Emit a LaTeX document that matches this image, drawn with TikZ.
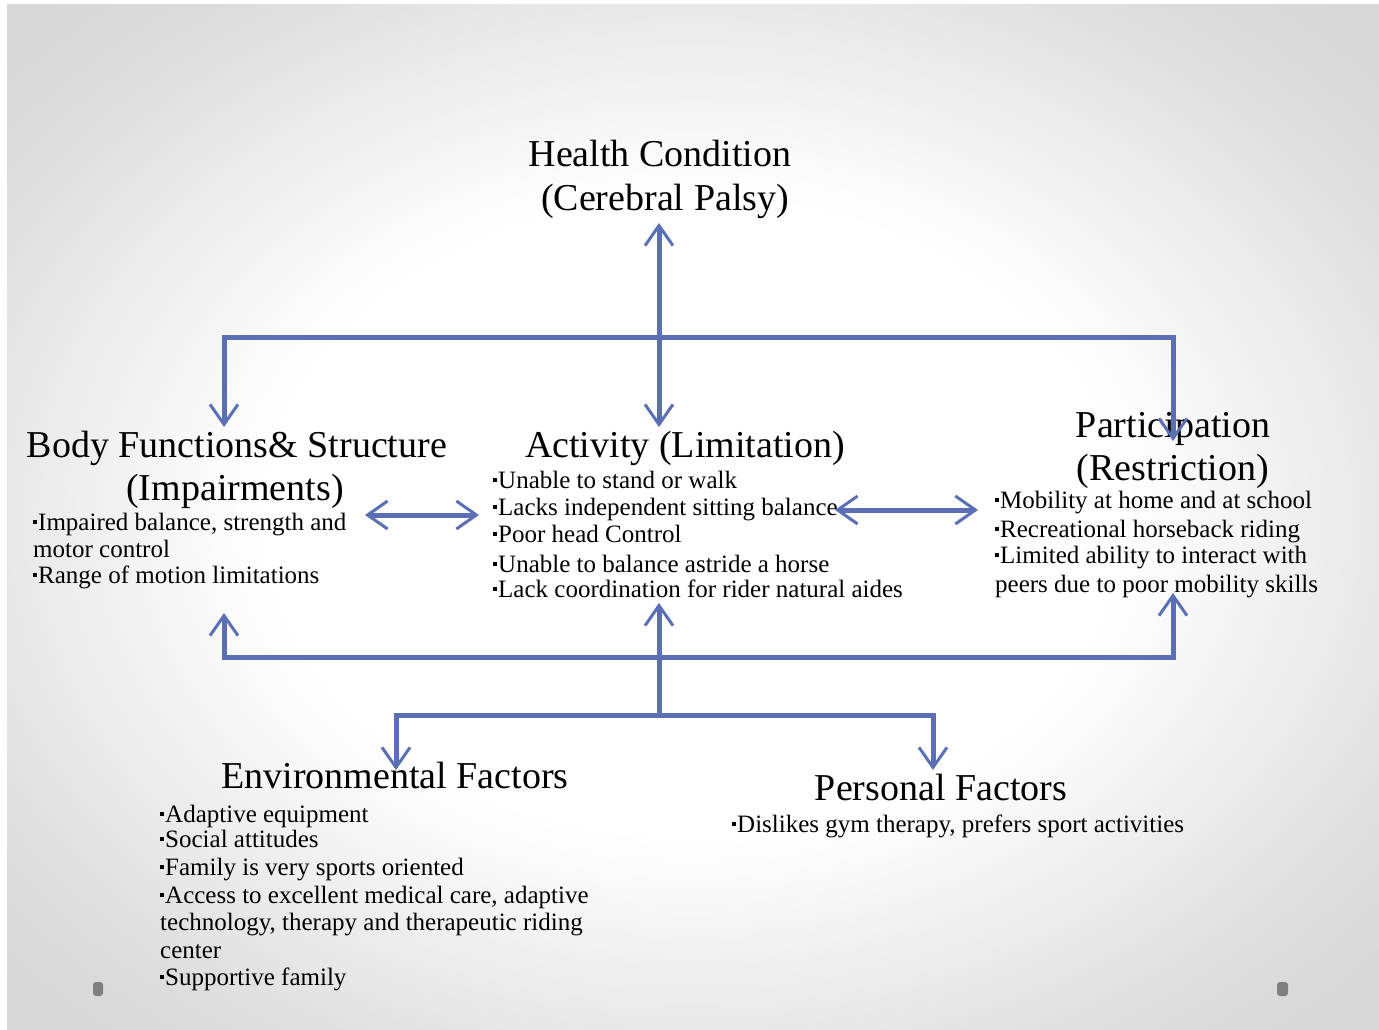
\documentclass[tikz,border=0pt]{standalone}
\usepackage{fontspec}
\setmainfont{Liberation Serif}
\usetikzlibrary{arrows.meta}
\definecolor{conn}{RGB}{91,112,180}
\definecolor{dotgray}{RGB}{128,128,128}
\definecolor{bgB}{gray}{0.84}
\newcommand{\sqbul}{\raisebox{6.5pt}{\rule{3.5pt}{3.5pt}}\hspace{1.5pt}}
\tikzset{
  ttl/.style={font=\fontsize{38}{42}\selectfont, anchor=base, inner sep=0pt},
  bl/.style={font=\fontsize{25}{27}\selectfont, anchor=base west, inner sep=0pt},
  conn/.style={draw=conn, line width=5pt, line join=miter},
  tp/.tip={Straight Barb[length=20pt,width=28pt,line width=3pt]}
}
\begin{document}
\begin{tikzpicture}[x=1pt,y=-1pt]
\useasboundingbox (0,0) rectangle (1379,1030);
\fill[white] (0,0) rectangle (1379,1030);
% slide background: radial grey-to-white gradient
\begin{scope}
\clip (7,5) rectangle (1379,1030);
\fill[bgB] (7,5) rectangle (1379,1030);
\foreach \i in {0,...,8}{
  \pgfmathsetmacro{\kk}{1.45-\i*0.23/8}
  \pgfmathsetmacro{\gg}{0.84+\i*0.02/8}
  \pgfmathsetmacro{\rx}{686*\kk}
  \pgfmathsetmacro{\ry}{512.5*\kk}
  \definecolor{tmpc}{gray}{\gg}
  \fill[tmpc] (693,517.5) ellipse [x radius=\rx pt, y radius=\ry pt];
}
\foreach \i in {0,...,48}{
  \pgfmathsetmacro{\kk}{1.22-\i*0.59/48}
  \pgfmathsetmacro{\gg}{0.86+\i*0.14/48}
  \pgfmathsetmacro{\rx}{686*\kk}
  \pgfmathsetmacro{\ry}{512.5*\kk}
  \definecolor{tmpc}{gray}{\gg}
  \fill[tmpc] (693,517.5) ellipse [x radius=\rx pt, y radius=\ry pt];
}
\end{scope}

% titles
\node[ttl] (hc1) at (660,167) {Health Condition};
\node[ttl] (hc2) at (665,210) {(Cerebral Palsy)};
\node[ttl] (bf1) at (237,457) {Body Functions\& Structure};
\node[ttl] (bf2) at (235,500) {(Impairments)};
\node[ttl] (ac1) at (685,457) {Activity (Limitation)};
\node[ttl] (pa1) at (1173,437) {Participation};
\node[ttl] (pa2) at (1173,480) {(Restriction)};
\node[ttl] (en1) at (395,788) {Environmental Factors};
\node[ttl] (pe1) at (941,800) {Personal Factors};

% body bullets
\node[bl] (b1) at (33,530) {\sqbul Impaired balance, strength and};
\node[bl] (b2) at (33,557) {motor control};
\node[bl] (b3) at (33,583) {\sqbul Range of motion  limitations};

% activity bullets
\node[bl] (a1) at (493,488) {\sqbul Unable  to stand or walk};
\node[bl] (a2) at (493,515) {\sqbul Lacks independent sitting balance};
\node[bl] (a3) at (493,542) {\sqbul Poor head Control};
\node[bl] (a4) at (493,572) {\sqbul Unable  to balance astride a horse};
\node[bl] (a5) at (493,597) {\sqbul Lack coordination for rider natural aides};

% participation bullets
\node[bl] (p1) at (995,508) {\sqbul Mobility at home and at school};
\node[bl] (p2) at (995,537) {\sqbul Recreational horseback riding};
\node[bl] (p3) at (995,563) {\sqbul Limited ability to interact with};
\node[bl] (p4) at (995,592) {peers due to poor mobility  skills};

% environmental bullets
\node[bl] (e1) at (160,822) {\sqbul Adaptive equipment};
\node[bl] (e2) at (160,847) {\sqbul Social attitudes};
\node[bl] (e3) at (160,875) {\sqbul Family  is very sports oriented};
\node[bl] (e4) at (160,903) {\sqbul Access to excellent medical care, adaptive};
\node[bl] (e5) at (160,930) {technology, therapy and therapeutic riding};
\node[bl] (e6) at (160,958) {center};
\node[bl] (e7) at (160,985) {\sqbul Supportive family};

% personal bullet
\node[bl] (q1) at (732,832) {\sqbul Dislikes  gym  therapy, prefers sport activities};

% connector points
\coordinate (hcTip) at (659,223);
\coordinate (acTop) at (659,427);
\coordinate (bfTop) at (224,427);
\coordinate (topR) at (1173,337);
\coordinate (paTop) at (1173,441);
\coordinate (bfR) at (365,515);
\coordinate (acL) at (479,515);
\coordinate (acR) at (835,510);
\coordinate (paL) at (978,510);
\coordinate (bfBot) at (224,613);
\coordinate (botR) at (1173,657);
\coordinate (paBot) at (1173,593);
\coordinate (acBot) at (659,603);
\coordinate (envJ) at (659,715);
\coordinate (enTop) at (396,770);
\coordinate (peR) at (933,715);
\coordinate (peTop) at (933,770);

\draw[conn,tp-tp] (hcTip) -- (acTop);
\draw[conn,tp-tp] (bfTop) |- (topR) -- (paTop);
\draw[conn,tp-tp] (bfR) -- (acL);
\draw[conn,tp-tp] (acR) -- (paL);
\draw[conn,tp-tp] (bfBot) |- (botR) -- (paBot);
\draw[conn,-tp] (envJ) -- (acBot);
\draw[conn,tp-tp] (enTop) |- (peR) -- (peTop);

% slide dots
\fill[dotgray, rounded corners=3pt] (93,982) rectangle (103,996);
\fill[dotgray, rounded corners=3pt] (1277,982) rectangle (1288,996);
\end{tikzpicture}
\end{document}
